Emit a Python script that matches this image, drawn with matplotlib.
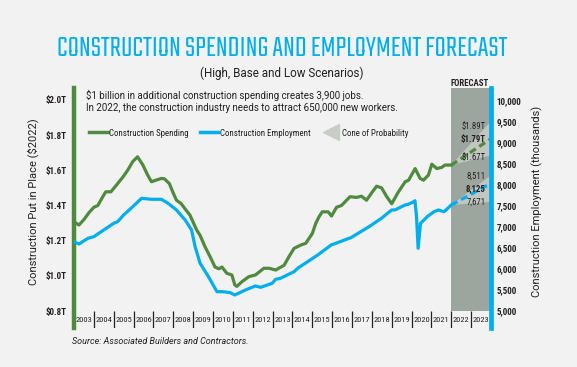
import matplotlib
matplotlib.use('Agg')
import matplotlib.pyplot as plt
from matplotlib import font_manager
from matplotlib.lines import Line2D

# ---- data ----
spend_year = [2003.0, 2003.25, 2003.5, 2003.76, 2004.0, 2004.2, 2004.45, 2004.6, 2004.86,
              2005.2, 2005.45, 2005.7, 2005.96, 2006.2, 2006.47, 2006.7, 2006.9, 2007.15,
              2007.4, 2007.55, 2007.8, 2008.0, 2008.16, 2008.4, 2008.6, 2008.84, 2009.18,
              2009.35, 2009.6, 2009.85, 2010.1, 2010.3, 2010.45, 2010.7, 2010.95, 2011.1,
              2011.2, 2011.45, 2011.8, 2012.14, 2012.56, 2012.82, 2013.16, 2013.58, 2013.83,
              2014.08, 2014.42, 2014.67, 2015.0, 2015.18, 2015.34, 2015.5, 2015.8, 2015.97,
              2016.22, 2016.47, 2016.9, 2017.23, 2017.48, 2017.73, 2017.98, 2018.24, 2018.49,
              2018.75, 2019.0, 2019.34, 2019.68, 2019.85, 2020.18, 2020.43, 2020.6, 2020.85,
              2021.02, 2021.27, 2021.52, 2021.68, 2022.0]
spend = [1.307, 1.289, 1.32, 1.36, 1.39, 1.40, 1.45, 1.478, 1.478,
         1.525, 1.56, 1.60, 1.65, 1.677, 1.63, 1.575, 1.535, 1.545,
         1.554, 1.552, 1.525, 1.47, 1.43, 1.41, 1.38, 1.345, 1.26,
         1.23, 1.165, 1.11, 1.05, 1.04, 1.05, 1.014, 1.005, 0.948,
         0.94, 0.966, 0.995, 1.005, 1.043, 1.043, 1.033, 1.06, 1.11,
         1.156, 1.175, 1.185, 1.24, 1.30, 1.336, 1.364, 1.364, 1.34,
         1.39, 1.40, 1.45, 1.446, 1.453, 1.43, 1.47, 1.51, 1.50,
         1.45, 1.41, 1.478, 1.535, 1.544, 1.61, 1.554, 1.544, 1.573,
         1.635, 1.61, 1.617, 1.63, 1.63]

emp_year = [2003.0, 2003.25, 2003.7, 2004.0, 2004.5, 2005.0, 2005.2, 2005.5, 2005.96,
            2006.4, 2006.9, 2007.4, 2007.74, 2008.16, 2008.6, 2008.92, 2009.1, 2009.35,
            2009.77, 2010.2, 2010.5, 2010.87, 2011.1, 2011.63, 2012.13, 2012.4, 2012.98,
            2013.15, 2013.4, 2014.08, 2014.3, 2015.1, 2015.27, 2015.95, 2016.96, 2017.9,
            2018.48, 2019.0, 2019.16, 2019.67, 2019.83, 2020.1, 2020.17, 2020.25, 2020.33,
            2020.45, 2020.8, 2021.13, 2021.35, 2021.64, 2022.0]
emp = [6650, 6595, 6731, 6770, 6929, 7088, 7127, 7286, 7484,
       7683, 7660, 7660, 7564, 7405, 7167, 6929, 6531, 6136,
       5817, 5460, 5460, 5436, 5381, 5500, 5595, 5564, 5659,
       5754, 5779, 5936, 6030, 6278, 6333, 6571, 6750, 7020,
       7207, 7405, 7405, 7524, 7540, 7600, 7626, 7245, 6493,
       7088, 7250, 7364, 7405, 7364, 7524]

# forecast: base path and cone (high / low) at end of 2023
fc_year = [2022.0, 2024.0]
spend_base = [1.63, 1.78]
spend_high, spend_low = 1.88, 1.685
emp_base = [7524, 8040]
emp_high, emp_low = 8230, 7600
spend_labels = ['$1.89T', '$1.79T', '$1.67T']
emp_labels = ['8,511', '8,125', '7,671']

years = list(range(2003, 2024))
spend_ticks = [0.8, 1.0, 1.2, 1.4, 1.6, 1.8, 2.0]
spend_ticklabels = ['$0.8T', '$1.0T', '$1.2T', '$1.4T', '$1.6T', '$1.8T', '$2.0T']
emp_ticks = list(range(5000, 10001, 500))
emp_ticklabels = ['5,000', '5,500', '6,000', '6,500', '7,000', '7,500',
                  '8,000', '8,500', '9,000', '9,500', '10,000']

# ---- style ----
BG = '#f2f2f2'
GREEN = '#4f8a3e'
BLUE = '#00aeef'
GRAY = '#9da59f'
CONE = '#c8cdc8'
DARK = '#231f20'

installed = {f.name for f in font_manager.fontManager.ttflist}


def pick(*names):
    for n in names:
        if n in installed:
            return n
    return 'DejaVu Sans'


TITLE_FONT = pick('Saira Extra Condensed', 'Teko', 'Big Shoulders Display', 'Oswald',
                  'Bebas Neue', 'Barlow Condensed')
NARROW = pick('Roboto Condensed', 'Archivo Narrow', 'Barlow Semi Condensed',
              'Liberation Sans Narrow')
REG = pick('Roboto', 'Liberation Sans', 'DejaVu Sans')

W, H = 577, 367
fig = plt.figure(figsize=(W / 100, H / 100), dpi=100, facecolor=BG)

# axes spans y=88..328 px, x=74..491 px; 0.8T / 5000 sit at y=311
ax = fig.add_axes([74 / W, (H - 328) / H, 417 / W, 240 / H])
ax.set_facecolor('none')
ax.set_xlim(2003, 2024)
px_t = 211 / 1.2
ax.set_ylim(0.8 - 17 / px_t, 2.0 + 12 / px_t)
ax2 = ax.twinx()
px_e = 210 / 5000
ax2.set_ylim(5000 - 17 / px_e, 10000 + 13 / px_e)

band_bottom = 17 / 240
ax.axvspan(2022, 2024, ymin=band_bottom, ymax=1, color=GRAY, lw=0, zorder=0)

# cones of probability
ax.fill([fc_year[0], fc_year[1], fc_year[1]], [spend_base[0], spend_high, spend_low],
        color=CONE, lw=0, alpha=0.85, zorder=1)
ax2.fill([fc_year[0], fc_year[1], fc_year[1]], [emp_base[0], emp_high, emp_low],
         color=CONE, lw=0, alpha=0.85, zorder=1)

ax.plot(spend_year, spend, color=GREEN, lw=2.3, solid_joinstyle='round', zorder=3)
ax.plot(fc_year, spend_base, color=GREEN, lw=2.3, dashes=(2.2, 1.3), zorder=3)
ax2.plot(emp_year, emp, color=BLUE, lw=2.3, solid_joinstyle='round', zorder=3)
ax2.plot(fc_year, emp_base, color=BLUE, lw=2.3, dashes=(2.2, 1.3), zorder=3)

# forecast value labels
lab_x = 2023.72
for txt, y, wt in zip(spend_labels, [1.847, 1.778, 1.670], ['normal', 'bold', 'normal']):
    ax.text(lab_x, y, txt, ha='right', va='center', fontsize=6.3, family=NARROW,
            weight=wt, color=DARK, zorder=4)
for txt, y, wt in zip(emp_labels, [8214, 7905, 7595], ['normal', 'bold', 'normal']):
    ax2.text(lab_x, y, txt, ha='right', va='center', fontsize=6.3, family=NARROW,
             weight=wt, color=DARK, zorder=4)

# spines
for s in ['top', 'bottom', 'right']:
    ax.spines[s].set_visible(False)
for s in ['top', 'bottom', 'left']:
    ax2.spines[s].set_visible(False)
ax.spines['left'].set_color(GREEN)
ax.spines['left'].set_linewidth(3.2)
ax2.spines['right'].set_color(BLUE)
ax2.spines['right'].set_linewidth(3.4)

# x axis: year labels in the band below the plot
ax.set_xticks([])
band_y = 0.8 - 8.5 / px_t
for yr in years:
    ax.text(yr + 0.5, band_y, str(yr), ha='center', va='center', fontsize=6,
            family=NARROW, color=DARK)
ax.vlines(years[1:], 0.8 - 17 / px_t, 0.8, color=DARK, lw=0.9)

ax.set_yticks(spend_ticks)
ax.set_yticklabels(spend_ticklabels, family=NARROW, weight='bold', fontsize=6.5, color=DARK)
ax.tick_params(axis='y', length=0, pad=5)
ax2.set_yticks(emp_ticks)
ax2.set_yticklabels(emp_ticklabels, family=NARROW, weight='bold', fontsize=6.5, color=DARK)
ax2.tick_params(axis='y', length=0, pad=4)

fig.text(33 / W, 1 - 202 / H, 'Construction Put in Place ($2022)', rotation=90,
         ha='center', va='center', fontsize=8, family=REG, color=DARK)
fig.text(537 / W, 1 - 201 / H, 'Construction Employment (thousands)', rotation=90,
         ha='center', va='center', fontsize=8, family=REG, color=DARK)

# titles
title = fig.text(282 / W, 1 - 48 / H, 'CONSTRUCTION SPENDING AND EMPLOYMENT FORECAST',
                 ha='center', va='center', fontsize=20, family=TITLE_FONT, weight='bold',
                 color=BLUE)
fig.canvas.draw()
tw = title.get_window_extent().width
title.set_fontsize(20 * 450 / tw)

fig.text(282 / W, 1 - 73 / H, '(High, Base and Low Scenarios)', ha='center', va='center',
         fontsize=8.4, family=REG, color=DARK)
fig.text(470 / W, 1 - 83 / H, 'FORECAST', ha='center', va='center', fontsize=6.3,
         family=NARROW, weight='bold', color=DARK)

fig.text(86 / W, 1 - 95 / H,
         '$1 billion in additional construction spending creates 3,900 jobs.',
         ha='left', va='center', fontsize=7.0, family=REG, color=DARK)
fig.text(86 / W, 1 - 108 / H,
         'In 2022, the construction industry needs to attract 650,000 new workers.',
         ha='left', va='center', fontsize=7.0, family=REG, color=DARK)

handles = [Line2D([], [], color=GREEN, lw=2.5),
           Line2D([], [], color=BLUE, lw=2.5),
           Line2D([], [], color=CONE, marker='<', markersize=11, lw=0)]
leg = fig.legend(handles, ['Construction Spending', 'Construction Employment',
                           'Cone of Probability'],
                 loc='center left', bbox_to_anchor=(81 / W, 1 - 133 / H), ncol=3,
                 frameon=False, handlelength=2.1, handletextpad=0.2, columnspacing=1.2,
                 prop={'family': NARROW, 'size': 6.4})
for t in leg.get_texts():
    t.set_color(DARK)

fig.text(72 / W, 1 - 342 / H, 'Source: Associated Builders and Contractors.',
         ha='left', va='center', fontsize=6.5, family=REG, style='italic', color=DARK)

fig.savefig('out.png', dpi=100, facecolor=BG)
